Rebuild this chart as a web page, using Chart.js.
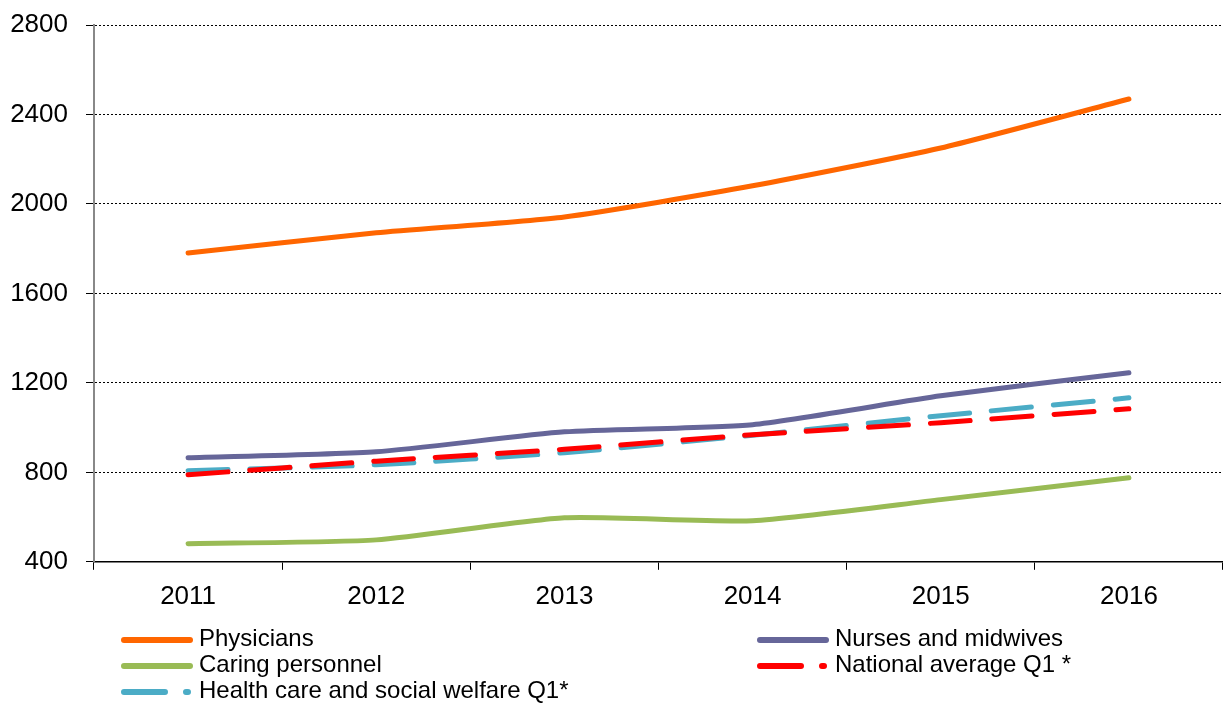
<!DOCTYPE html>
<html>
<head>
<meta charset="utf-8">
<script src="https://cdn.jsdelivr.net/npm/chart.js@4"></script>
<style>
    html, body { margin: 0; padding: 0; background: #fff; }
    #wrap { position: relative; width: 1223px; height: 704px; overflow: hidden; }
    canvas { position: absolute; left: 0; top: 0; }
    .legend-item { position: absolute; font-family: "Liberation Sans", Arial, sans-serif; font-size: 24px; color: #000; line-height: 26px; white-space: nowrap; }
    .legend-item canvas { position: static; vertical-align: middle; margin-right: 5px; }
</style>
</head>
<body>
<div id="wrap">
    <canvas id="chart" width="1223" height="704"></canvas>
</div>
<script>
const years = ['2011', '2012', '2013', '2014', '2015', '2016'];
const physicians = [1781, 1871, 1942, 2081, 2250, 2469];
const nurses = [865, 892, 981, 1013, 1142, 1245];
const caring = [481, 498, 597, 584, 678, 776];
const nationalAvg = [789, 850, 903, 968, 1022, 1084];
const healthCare = [807, 834, 888, 966, 1053, 1133];
const yTicks = [400, 800, 1200, 1600, 2000, 2400, 2800];

const seriesInfo = [
    { label: 'Physicians', data: physicians, color: '#FF6600', dash: [] },
    { label: 'Nurses and midwives', data: nurses, color: '#666699', dash: [] },
    { label: 'Caring personnel', data: caring, color: '#99BB55', dash: [] },
    { label: 'National average Q1 *', data: nationalAvg, color: '#FF0000', dash: [40, 22] },
    { label: 'Health care and social welfare Q1*', data: healthCare, color: '#4BACC6', dash: [40, 22] }
];

const tickFont = { family: '"Liberation Sans", Arial, sans-serif', size: 26 };

const ctx = document.getElementById('chart').getContext('2d');
new Chart(ctx, {
    type: 'line',
    data: {
        labels: years,
        datasets: seriesInfo.map(s => ({
            label: s.label,
            data: s.data,
            borderColor: s.color,
            backgroundColor: s.color,
            borderWidth: 5,
            borderDash: s.dash,
            borderCapStyle: 'round',
            tension: 0.2,
            pointRadius: 0,
            fill: false
        }))
    },
    options: {
        responsive: false,
        animation: false,
        layout: { padding: { left: 10, top: 25, right: 0, bottom: 81 } },
        plugins: {
            legend: { display: false },
            tooltip: { enabled: false }
        },
        scales: {
            x: {
                offset: true,
                grid: {
                    offset: true,
                    drawOnChartArea: false,
                    drawTicks: true,
                    tickLength: 8,
                    color: '#000'
                },
                border: { color: '#000', width: 1.5 },
                ticks: {
                    color: '#000',
                    padding: 11,
                    font: tickFont
                }
            },
            y: {
                min: 400,
                max: 2800,
                afterBuildTicks: axis => { axis.ticks = yTicks.map(v => ({ value: v })); },
                afterFit: axis => {
                    axis.width = 84;
                    axis.paddingTop = 0;
                    axis.paddingBottom = 0;
                },
                grid: {
                    color: '#000',
                    lineWidth: 1,
                    tickLength: 8,
                    tickBorderDash: [],
                    tickColor: '#000'
                },
                border: { color: '#888', width: 2, dash: [2, 2] },
                ticks: {
                    color: '#000',
                    padding: 18,
                    font: tickFont,
                    callback: value => String(value)
                }
            }
        }
    }
});

// legend in two columns below the plot
const legendPos = [
    { x: 120, y: 625 }, { x: 756, y: 625 },
    { x: 120, y: 651 }, { x: 756, y: 651 },
    { x: 120, y: 677 }
];
const wrap = document.getElementById('wrap');
seriesInfo.forEach((s, i) => {
    const div = document.createElement('div');
    div.className = 'legend-item';
    div.style.left = legendPos[i].x + 'px';
    div.style.top = legendPos[i].y + 'px';
    const c = document.createElement('canvas');
    c.width = 74;
    c.height = 12;
    const g = c.getContext('2d');
    g.strokeStyle = s.color;
    g.lineWidth = 6;
    g.lineCap = 'round';
    g.beginPath();
    if (s.dash.length) {
        g.moveTo(4, 6); g.lineTo(45, 6);
        g.moveTo(66, 6); g.lineTo(68, 6);
    } else {
        g.moveTo(4, 6); g.lineTo(70, 6);
    }
    g.stroke();
    div.appendChild(c);
    div.appendChild(document.createTextNode(s.label));
    wrap.appendChild(div);
});
</script>
</body>
</html>
